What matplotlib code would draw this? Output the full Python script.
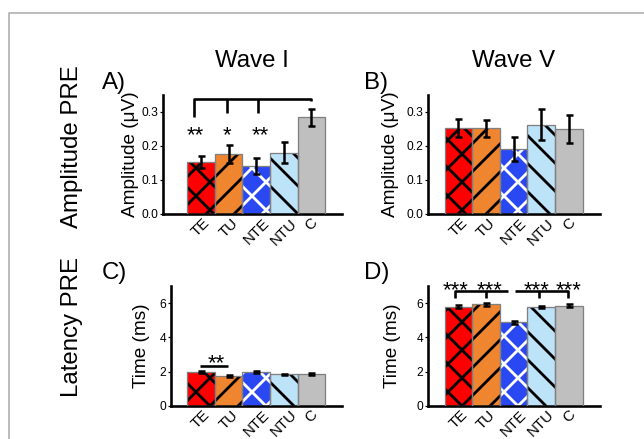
import numpy as np
import matplotlib
matplotlib.use('Agg')
import matplotlib.pyplot as plt
from matplotlib.lines import Line2D

# figure is 644x439 px
DPI = 168
W, H = 644, 439


def pt(px):
    # pixel size -> points at this dpi
    return px * 72.0 / DPI


plt.rcParams['font.family'] = ['Liberation Sans', 'DejaVu Sans']
plt.rcParams['hatch.linewidth'] = pt(2.8)

#%% data
groups = ['TE', 'TU', 'NTE', 'NTU', 'C']
colors = ['#ff0000', '#f0852f', '#2a48f2', '#bde3f8', '#bfbfbf']
hatches = ['xx', '//', 'xx', '\\\\', '']
hatch_colors = ['black', 'black', 'white', 'black', 'none']

amp_I = [0.153, 0.176, 0.141, 0.180, 0.284]
amp_I_err = [0.017, 0.026, 0.023, 0.031, 0.025]
amp_V = [0.253, 0.251, 0.190, 0.262, 0.248]
amp_V_err = [0.026, 0.024, 0.036, 0.045, 0.041]
lat_I = [1.99, 1.74, 1.96, 1.84, 1.84]
lat_I_err = [0.05, 0.04, 0.06, 0.04, 0.05]
lat_V = [5.80, 5.94, 4.88, 5.80, 5.86]
lat_V_err = [0.10, 0.08, 0.10, 0.05, 0.10]

# significance marks (data units)
sig_A_lines = [([-0.25, -0.25, 4.0, 4.0], [0.284, 0.336, 0.336, 0.33]),
               ([0.95, 0.95], [0.295, 0.336]),
               ([2.05, 2.05], [0.295, 0.336])]
sig_A_stars = [(-0.22, '**'), (0.95, '*'), (2.15, '**')]
sig_C_lines = [([-0.04, 0.99], [2.33, 2.33])]
sig_C_stars = [(0.57, '**')]
sig_D_lines = [([-0.13, -0.13, 1.8], [6.3, 6.74, 6.74]),
               ([0.99, 0.99], [6.3, 6.74]),
               ([2.05, 3.98, 3.98], [6.74, 6.74, 6.3]),
               ([2.93, 2.93], [6.3, 6.74])]
sig_D_stars = [(-0.1, '***'), (1.13, '***'), (2.84, '***'), (4.0, '***')]


def draw_panel(ax, vals, errs, xlim, ylim, yticks, ylabels, ylabel, ylab_x):
    x = np.arange(len(groups))
    for i in range(len(groups)):
        ax.bar(x[i], vals[i], width=1.0, color=colors[i],
               hatch=hatches[i] if hatches[i] else None,
               edgecolor=hatch_colors[i], linewidth=0, zorder=2)
    ax.bar(x, vals, width=1.0, fill=False, edgecolor='#808080',
           linewidth=pt(1.3), zorder=3)
    ax.errorbar(x, vals, yerr=errs, fmt='none', ecolor='black',
                elinewidth=pt(2.5), capsize=pt(3.5), capthick=pt(2.5), zorder=4)

    ax.set_xlim(*xlim)
    ax.set_ylim(*ylim)
    for s in ['top', 'right']:
        ax.spines[s].set_visible(False)
    for s in ['left', 'bottom']:
        ax.spines[s].set_linewidth(pt(2.6))
    ax.set_yticks(yticks)
    ax.set_yticklabels(ylabels)
    ax.tick_params(axis='y', length=pt(3), width=pt(1.2), pad=pt(1.5),
                   labelsize=pt(12))
    ax.set_xticks(x)
    ax.set_xticklabels(groups, rotation=45, ha='center')
    ax.tick_params(axis='x', length=0, pad=pt(2), labelsize=pt(15))
    ax.set_xticks([2], minor=True)
    ax.tick_params(axis='x', which='minor', length=pt(4), width=pt(1.5))
    ax.text(ylab_x, 0.5, ylabel, transform=ax.transAxes, rotation=90,
            ha='center', va='center', fontsize=pt(19))
    ax.patch.set_visible(False)


def draw_sig(ax, lines, stars, y_base):
    for xs, ys in lines:
        ax.plot(xs, ys, color='black', lw=pt(2.6), clip_on=False,
                solid_capstyle='butt', zorder=5)
    for xs, txt in stars:
        ax.text(xs, y_base, txt, ha='center', va='baseline',
                fontsize=pt(22), clip_on=False, zorder=5)


fig = plt.figure(figsize=(W / DPI, H / DPI), dpi=DPI)

axA = fig.add_axes([163 / W, 1 - 214 / H, 179 / W, 119.4 / H])
axB = fig.add_axes([427.7 / W, 1 - 214 / H, 172.3 / W, 119.4 / H])
axC = fig.add_axes([170.7 / W, 1 - 405.7 / H, 171.3 / W, 119.5 / H])
axD = fig.add_axes([427.7 / W, 1 - 405.7 / H, 172.3 / W, 119.5 / H])

amp_ticks = [0.0, 0.1, 0.2, 0.3]
amp_lbls = ['0.0', '0.1', '0.2', '0.3']
lat_ticks = [0, 2, 4, 6]
lat_lbls = ['0', '2', '4', '6']

draw_panel(axA, amp_I, amp_I_err, (-1.38, 5.11), (0, 0.35), amp_ticks, amp_lbls,
           'Amplitude (\u03bcV)', -0.18)
draw_panel(axB, amp_V, amp_V_err, (-1.115, 5.13), (0, 0.35), amp_ticks, amp_lbls,
           'Amplitude (\u03bcV)', -0.215)
draw_panel(axC, lat_I, lat_I_err, (-1.1, 5.11), (0, 7), lat_ticks, lat_lbls,
           'Time (ms)', -0.168)
draw_panel(axD, lat_V, lat_V_err, (-1.115, 5.13), (0, 7), lat_ticks, lat_lbls,
           'Time (ms)', -0.207)

draw_sig(axA, sig_A_lines, sig_A_stars, 0.2125)
draw_sig(axC, sig_C_lines, sig_C_stars, 2.12)
draw_sig(axD, sig_D_lines, sig_D_stars, 6.42)

# outer frame (only top and left edges visible)
fig.add_artist(Line2D([9 / W, 9 / W, 1.0], [0.0, 1 - 13 / H, 1 - 13 / H],
                      transform=fig.transFigure, color='#a8a8a8', lw=pt(1.5)))

big = pt(24)
fig.text(252 / W, 1 - 67 / H, 'Wave I', ha='center', va='baseline', fontsize=big)
fig.text(514 / W, 1 - 67 / H, 'Wave V', ha='center', va='baseline', fontsize=big)
fig.text(72 / W, 1 - 147 / H, 'Amplitude PRE', rotation=90, ha='center',
         va='center', fontsize=big)
fig.text(72 / W, 1 - 327 / H, 'Latency PRE', rotation=90, ha='center',
         va='center', fontsize=big)
fig.text(102 / W, 1 - 89 / H, 'A)', va='baseline', fontsize=big)
fig.text(364 / W, 1 - 89 / H, 'B)', va='baseline', fontsize=big)
fig.text(102 / W, 1 - 279 / H, 'C)', va='baseline', fontsize=big)
fig.text(364 / W, 1 - 279 / H, 'D)', va='baseline', fontsize=big)

fig.savefig('out.png', dpi=DPI)
